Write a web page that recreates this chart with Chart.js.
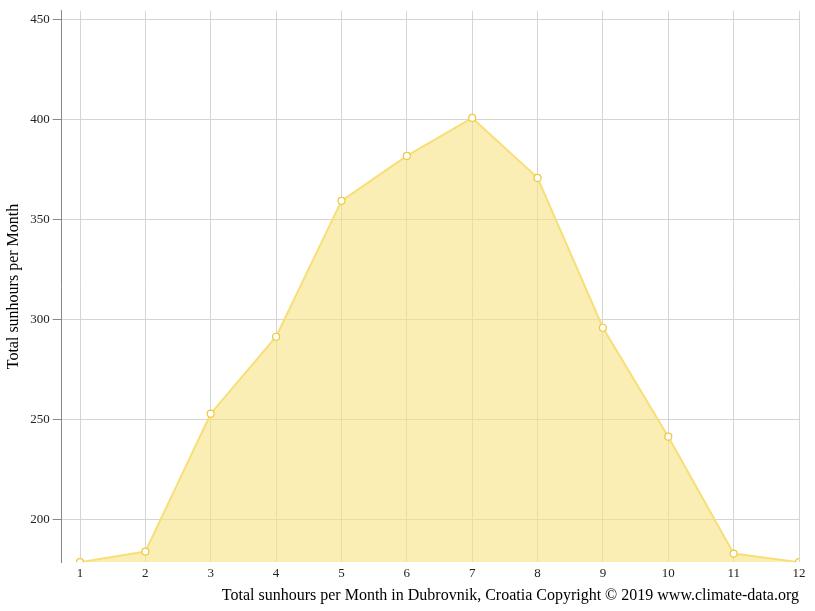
<!DOCTYPE html>
<html><head><meta charset="utf-8">
<script src="https://cdn.jsdelivr.net/npm/chart.js@4"></script>
<style>html,body{margin:0;padding:0;background:#fff}#w{width:815px;height:611px}</style>
</head><body><div id="w"><canvas id="c"></canvas></div>
<script>
const months = [1,2,3,4,5,6,7,8,9,10,11,12];
const sunhours = [178.7,184,253,291.5,359.5,382,401,371,296,241.5,183,178.7];
const yTicks = [200,250,300,350,400,450];
Chart.defaults.font.family = "'Liberation Serif', serif";
Chart.defaults.color = '#222';
new Chart(document.getElementById('c'), {
  type: 'line',
  data: { datasets: [{
    data: months.map((m,i)=>({x:m,y:sunhours[i]})),
    borderColor: 'rgba(248,222,120,1)', backgroundColor: 'rgba(248,226,130,0.6)',
    fill: 'start', tension: 0, borderWidth: 2,
    pointBackgroundColor: '#fff', pointBorderColor: 'rgba(240,200,60,1)', pointRadius: 3.5, pointBorderWidth: 1.2
  }]},
  options: {
    responsive: true, maintainAspectRatio: false, animation: false,
    layout: { padding: { top: 10, right: 16, bottom: 0, left: 0 } },
    plugins: { legend: { display: false }, tooltip: { enabled: false },
      title: { display: true, position: 'bottom', align: 'end', text: 'Total sunhours per Month in Dubrovnik, Croatia Copyright © 2019 www.climate-data.org', font: { size: 16, weight: 'normal' }, color: '#000', padding: { top: 0, bottom: 6 } } },
    scales: {
      x: { type: 'linear', min: 0.72, max: 12,
        afterBuildTicks: s => { s.ticks = months.map(v=>({value:v})); },
        ticks: { font: { size: 13 }, color: '#222', padding: 4 },
        grid: { color: '#d5d5d5', drawTicks: false }, border: { display: false } },
      y: { min: 178.7, max: 454.6,
        afterBuildTicks: s => { s.ticks = yTicks.map(v=>({value:v})); },
        title: { display: true, text: 'Total sunhours per Month', font: { size: 16 }, color: '#000' },
        ticks: { font: { size: 13 }, color: '#222' },
        grid: { color: '#d5d5d5', tickLength: 9, tickColor: '#888' }, border: { color: '#888' } }
    }
  }
});
</script></body></html>
